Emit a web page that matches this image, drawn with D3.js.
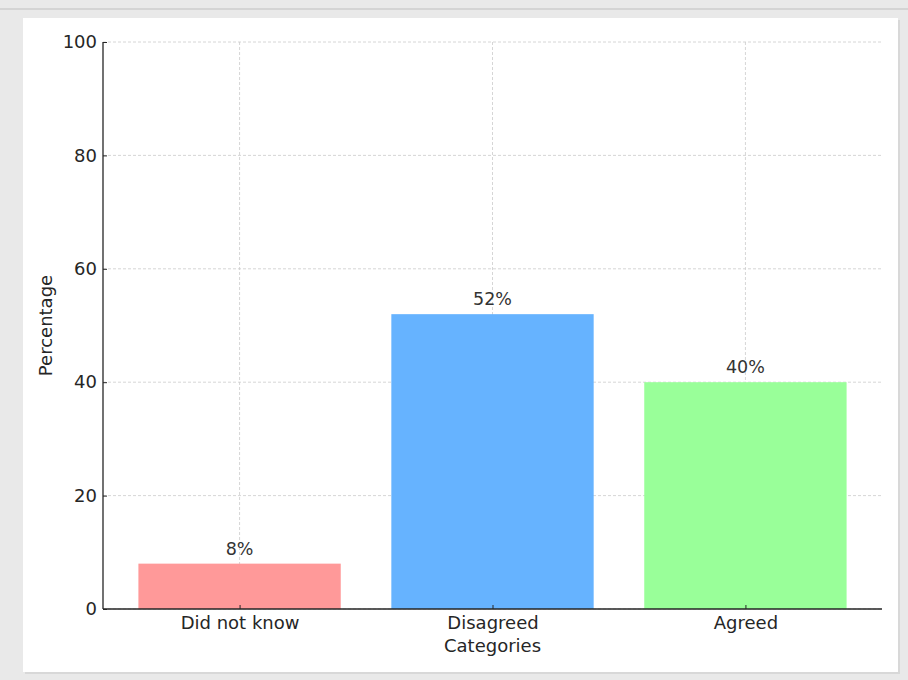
<!DOCTYPE html>
<html>
<head>
<meta charset="utf-8">
<script src="https://cdn.jsdelivr.net/npm/d3@7"></script>
<style>
  html, body { margin: 0; padding: 0; background: #e9e9e9; }
  svg { display: block; font-family: "DejaVu Sans", sans-serif; }
</style>
</head>
<body>
<svg id="chart" width="908" height="680"></svg>
<script>
// Survey answers, in percent
const categories = ["Did not know", "Disagreed", "Agreed"];
const values = [8, 52, 40];
const colors = ["#ff9999", "#66b3ff", "#99ff99"];
const yTicks = [0, 20, 40, 60, 80, 100];

const svg = d3.select("#chart");
const ink = "#262626";

// page background and card
svg.append("rect").attr("x", 0).attr("y", 0).attr("width", 908).attr("height", 680).attr("fill", "#e9e9e9");
svg.append("rect").attr("x", 0).attr("y", 8).attr("width", 908).attr("height", 2).attr("fill", "#d4d4d4");
svg.append("rect").attr("x", 25).attr("y", 20).attr("width", 875).attr("height", 654).attr("fill", "#d8d8d8");
svg.append("rect").attr("x", 23).attr("y", 18).attr("width", 875).attr("height", 654).attr("fill", "#ffffff");

const plotLeft = 103, plotRight = 882, plotTop = 42, plotBottom = 609;

// bars sit at integer positions with width 0.8, plus a 5% margin either side
const x = d3.scaleLinear().domain([-0.54, 2.54]).range([plotLeft, plotRight]);
const y = d3.scaleLinear().domain([0, 100]).range([plotBottom, plotTop]);
const barW = 0.8;

const g = svg.append("g");

// dashed grid
g.selectAll("line.hgrid").data(yTicks).join("line")
  .attr("x1", plotLeft).attr("x2", plotRight)
  .attr("y1", d => y(d)).attr("y2", d => y(d))
  .attr("stroke", "#cccccc").attr("stroke-width", 0.8).attr("stroke-dasharray", "3,2");
g.selectAll("line.vgrid").data(categories).join("line")
  .attr("x1", (d, i) => x(i)).attr("x2", (d, i) => x(i))
  .attr("y1", plotTop).attr("y2", plotBottom)
  .attr("stroke", "#cccccc").attr("stroke-width", 0.8).attr("stroke-dasharray", "3,2");

// bars
g.selectAll("rect.bar").data(values).join("rect")
  .attr("x", (d, i) => x(i - barW / 2))
  .attr("width", (d, i) => x(i + barW / 2) - x(i - barW / 2))
  .attr("y", d => y(d))
  .attr("height", d => y(0) - y(d))
  .attr("fill", (d, i) => colors[i]);

// value labels
g.selectAll("text.val").data(values).join("text")
  .attr("x", (d, i) => x(i))
  .attr("y", d => y(d) - 9)
  .attr("text-anchor", "middle")
  .attr("font-size", 17.5)
  .attr("fill", "#333333")
  .text(d => d + "%");

// axes, ticks pointing into the plot
const yAxis = d3.axisLeft(y).tickValues(yTicks).tickSize(-4).tickPadding(6);
const yG = svg.append("g").attr("transform", `translate(${plotLeft},0)`).call(yAxis);
yG.select(".domain").attr("d", `M0,${plotTop}V${plotBottom}`).attr("stroke", ink).attr("stroke-width", 1.3);
yG.selectAll(".tick line").attr("stroke", ink);
yG.selectAll(".tick text").attr("font-size", 18).attr("fill", ink).attr("font-family", "DejaVu Sans");

const xAxis = d3.axisBottom(x).tickValues([0, 1, 2]).tickFormat(i => categories[i]).tickSize(-4).tickPadding(7);
const xG = svg.append("g").attr("transform", `translate(0,${plotBottom})`).call(xAxis);
xG.select(".domain").attr("d", `M${plotLeft},0H${plotRight}`).attr("stroke", ink).attr("stroke-width", 1.3);
xG.selectAll(".tick line").attr("stroke", ink);
xG.selectAll(".tick text").attr("font-size", 18).attr("fill", ink).attr("font-family", "DejaVu Sans");

// axis titles
svg.append("text")
  .attr("x", (plotLeft + plotRight) / 2).attr("y", 652)
  .attr("text-anchor", "middle").attr("font-size", 18).attr("fill", ink)
  .text("Categories");
svg.append("text")
  .attr("transform", `translate(52,${(plotTop + plotBottom) / 2}) rotate(-90)`)
  .attr("text-anchor", "middle").attr("font-size", 18).attr("fill", ink)
  .text("Percentage");
</script>
</body>
</html>
